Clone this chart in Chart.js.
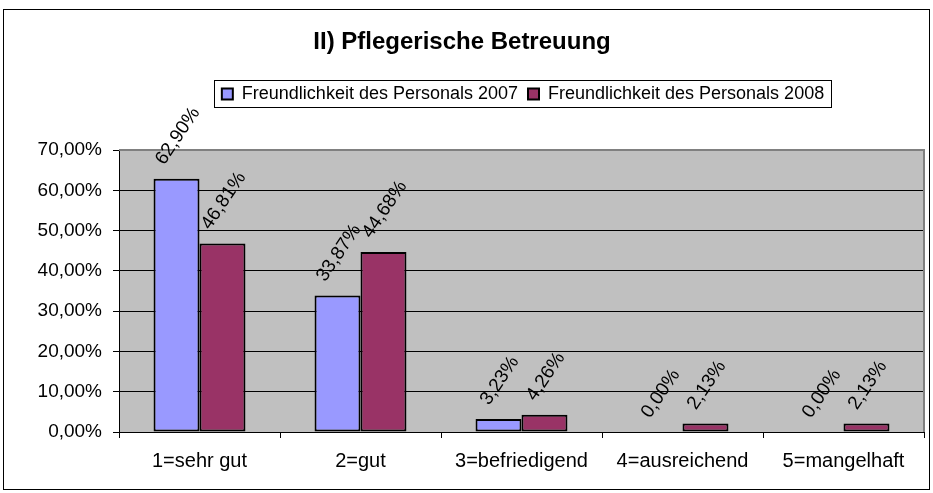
<!DOCTYPE html>
<html>
<head>
<meta charset="utf-8">
<script src="https://cdn.jsdelivr.net/npm/chart.js@4"></script>
<style>
  body { margin: 0; background: #ffffff; }
  #wrap { width: 933px; height: 493px; }
</style>
</head>
<body>
<div id="wrap"><canvas id="bar-chart"></canvas></div>
<script>
const categories = ["1=sehr gut", "2=gut", "3=befriedigend", "4=ausreichend", "5=mangelhaft"];
const values2007 = [62.9, 33.87, 3.23, 0.0, 0.0];
const values2008 = [46.81, 44.68, 4.26, 2.13, 2.13];
const seriesNames = ["Freundlichkeit des Personals 2007", "Freundlichkeit des Personals 2008"];
const yMax = 70;
const yStep = 10;

const fmt = (v) => v.toFixed(2).replace(".", ",") + "%";

Chart.defaults.font.family = "'Liberation Sans', Arial, sans-serif";
Chart.defaults.color = "#000000";

// grey plot area, grey top/right frame, outer chart border
const frame = {
  id: "frame",
  afterLayout: (chart) => {
    // legend sits a bit right of centre in the original
    chart.legend.left += 61;
    chart.legend.right += 61;
  },
  beforeDraw: (chart) => {
    const { ctx, chartArea: a } = chart;
    ctx.save();
    ctx.fillStyle = "#c0c0c0";
    ctx.fillRect(a.left, a.top, a.right - a.left, a.bottom - a.top);
    ctx.strokeStyle = "#000000";
    ctx.lineWidth = 1;
    ctx.strokeRect(3.5, 9.5, 926, 480);
    ctx.restore();
  },
  beforeDatasetsDraw: (chart) => {
    const { ctx, chartArea: a } = chart;
    ctx.save();
    ctx.strokeStyle = "#808080";
    ctx.lineWidth = 2;
    ctx.beginPath();
    ctx.moveTo(a.left, a.top);
    ctx.lineTo(a.right, a.top);
    ctx.lineTo(a.right, a.bottom);
    ctx.stroke();
    ctx.restore();
  },
  afterDraw: (chart) => {
    const boxes = chart.legend.legendHitBoxes;
    if (!boxes || !boxes.length) return;
    let x0 = Infinity, x1 = -Infinity, y0 = Infinity, y1 = -Infinity;
    boxes.forEach((b) => {
      x0 = Math.min(x0, b.left);
      x1 = Math.max(x1, b.left + b.width);
      y0 = Math.min(y0, b.top);
      y1 = Math.max(y1, b.top + b.height);
    });
    const ctx = chart.ctx;
    ctx.save();
    ctx.strokeStyle = "#000000";
    ctx.lineWidth = 1;
    ctx.strokeRect(Math.round(x0) - 7.5, Math.round(y0) - 4.5, Math.round(x1 - x0) + 15, Math.round(y1 - y0) + 9);
    ctx.restore();
  },
};

// rotated value labels above the bars
const valueLabels = {
  id: "valueLabels",
  afterDatasetsDraw: (chart) => {
    const ctx = chart.ctx;
    ctx.save();
    ctx.font = "19px 'Liberation Sans', Arial, sans-serif";
    ctx.fillStyle = "#000000";
    ctx.textAlign = "left";
    ctx.textBaseline = "alphabetic";
    const capH = 13.6;
    const ang = (56 * Math.PI) / 180;
    chart.data.datasets.forEach((ds, i) => {
      chart.getDatasetMeta(i).data.forEach((bar, j) => {
        const txt = fmt(ds.data[j]);
        const L = ctx.measureText(txt).width;
        const bx = bar.x - (L * Math.cos(ang) - capH * Math.sin(ang)) / 2;
        const by = bar.y - 13;
        ctx.save();
        ctx.translate(bx, by);
        ctx.rotate(-ang);
        ctx.fillText(txt, 0, 0);
        ctx.restore();
      });
    });
    ctx.restore();
  },
};

const myChart = new Chart("bar-chart", {
  type: "bar",
  data: {
    labels: categories,
    datasets: [
      {
        label: seriesNames[0],
        data: values2007,
        backgroundColor: "#9999ff",
        borderColor: "#000000",
        borderWidth: 2,
        borderSkipped: false,
      },
      {
        label: seriesNames[1],
        data: values2008,
        backgroundColor: "#993366",
        borderColor: "#000000",
        borderWidth: 2,
        borderSkipped: false,
      },
    ],
  },
  options: {
    responsive: true,
    maintainAspectRatio: false,
    animation: false,
    categoryPercentage: 0.571,
    barPercentage: 1.0,
    layout: {
      padding: { top: 0, right: 9, bottom: 0, left: 0 },
    },
    scales: {
      x: {
        afterFit: (scale) => {
          scale.height = 61;
        },
        border: { color: "#000000", width: 1 },
        grid: {
          offset: true,
          drawOnChartArea: false,
          drawTicks: true,
          tickLength: 6,
          color: "#000000",
        },
        ticks: {
          font: { size: 20 },
          padding: 11,
          maxRotation: 0,
          autoSkip: false,
        },
      },
      y: {
        min: 0,
        max: yMax,
        afterFit: (scale) => {
          scale.width = 119;
        },
        border: { color: "#000000", width: 1 },
        grid: {
          color: (ctx) => (ctx.tick && ctx.tick.value === yMax ? "#808080" : "#000000"),
          tickLength: 6,
          tickColor: "#000000",
        },
        ticks: {
          stepSize: yStep,
          font: { size: 19 },
          padding: 11,
          callback: (v) => fmt(v),
        },
      },
    },
    plugins: {
      title: {
        display: true,
        text: "II) Pflegerische Betreuung",
        font: { size: 24, weight: "bold" },
        color: "#000000",
        padding: { top: 27.6, bottom: 18.5 },
      },
      subtitle: {
        display: true,
        text: " ",
        weight: 500,
        font: { size: 1 },
        padding: { top: 36, bottom: 0 },
      },
      legend: {
        display: true,
        position: "top",
        labels: {
          font: { size: 18 },
          color: "#000000",
          boxWidth: 11,
          boxHeight: 11,
          padding: 10,
        },
      },
      tooltip: { enabled: false },
    },
  },
  plugins: [frame, valueLabels],
});
</script>
</body>
</html>
